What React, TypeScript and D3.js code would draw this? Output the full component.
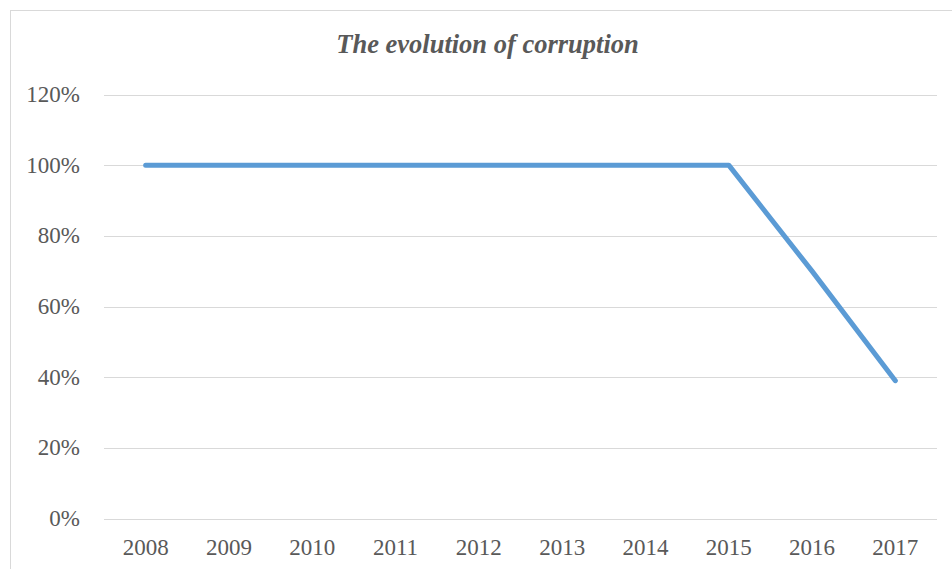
import React from "react";
import * as d3 from "d3";

const years = ["2008", "2009", "2010", "2011", "2012", "2013", "2014", "2015", "2016", "2017"];
const values = [1.0, 1.0, 1.0, 1.0, 1.0, 1.0, 1.0, 1.0, 0.7, 0.39];
const yTicks = [0, 0.2, 0.4, 0.6, 0.8, 1.0, 1.2];
const title = "The evolution of corruption";

export default function App() {
  const W = 952, H = 569;
  const left = 104, right = 937, top = 94.5, bottom = 518.5;
  const x = d3.scaleBand<string>().domain(years).range([left, right]);
  const y = d3.scaleLinear().domain([0, 1.2]).range([bottom, top]);
  const line = d3.line<number>()
    .x((_, i) => (x(years[i]) as number) + x.bandwidth() / 2)
    .y((d) => y(d));
  const fmt = d3.format(".0%");
  const font = "'Liberation Serif', 'Times New Roman', serif";
  return (
    <svg width={W} height={H} style={{ position: "absolute", left: 0, top: 0 }} fontFamily={font}>
      <rect x={0} y={0} width={W} height={H} fill="#fff" />
      <rect x={10.5} y={10.5} width={1000} height={700} fill="none" stroke="#D9D9D9" strokeWidth={1} />
      <text x={487.5} y={53} textAnchor="middle" fontSize={26.5} fontWeight="bold" fontStyle="italic" fill="#595959" fontFamily="'Liberation Serif', serif">
        {title}
      </text>
      {yTicks.map((t) => (
        <g key={t}>
          <line x1={left} x2={right} y1={Math.round(y(t)) + 0.5} y2={Math.round(y(t)) + 0.5} stroke="#D9D9D9" strokeWidth={1} />
          <text x={80} y={y(t) + 7.5} textAnchor="end" fontSize={23} fill="#595959">
            {fmt(t)}
          </text>
        </g>
      ))}
      {years.map((yr) => (
        <text key={yr} x={(x(yr) as number) + x.bandwidth() / 2} y={555} textAnchor="middle" fontSize={23} fill="#595959">
          {yr}
        </text>
      ))}
      <path d={line(values) || ""} fill="none" stroke="#5B9BD5" strokeWidth={5} strokeLinecap="round" strokeLinejoin="round" />
    </svg>
  );
}
